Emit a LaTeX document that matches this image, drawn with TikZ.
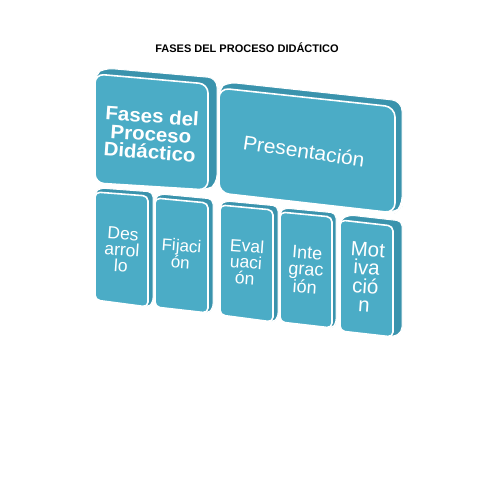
\documentclass[tikz,border=0pt]{standalone}
\usepackage{fontspec}
\setmainfont{Liberation Sans}
\usetikzlibrary{calc}
\definecolor{frontc}{HTML}{4BACC6}
\definecolor{sidec}{HTML}{3A93AD}
\newcommand\threedbox[7]{%
  \coordinate (#1-tl) at (#2);
  \coordinate (#1-tr) at (#3);
  \coordinate (#1-br) at (#4);
  \coordinate (#1-bl) at (#5);
  \filldraw[sidec, draw=white, line width=1pt, rounded corners=#7]
    (#1-bl) -- (#1-tl) -- ($(#1-tl)+(#6)$) -- ($(#1-tr)+(#6)$) -- ($(#1-br)+(#6)$) -- (#1-br) -- cycle;
  \filldraw[frontc, draw=white, line width=1.6pt, rounded corners=#7]
    (#1-tl) -- (#1-tr) -- (#1-br) -- (#1-bl) -- cycle;
}
\tikzset{
  lbl/.style={text=white, align=center, inner sep=0pt, rotate=-4},
}
\begin{document}
\begin{tikzpicture}[x=1pt,y=-1pt]
\useasboundingbox[fill=white] (0,0) rectangle (495,495);
\node[font=\bfseries\fontsize{11}{13}\selectfont, inner sep=0pt] (title) at (247,48) {FASES DEL PROCESO DIDÁCTICO};

\threedbox{b1}{95,74}{208,84}{208,190}{95,183}{9,-6}{9}
\threedbox{b2}{219,88}{395,107}{395,213}{219,193}{7,-6}{10}
\threedbox{b3}{95,192}{148,196}{148,307}{95,300}{5,-4}{5}
\threedbox{b4}{155,198}{208,203}{208,313}{155,307}{5,-4}{5}
\threedbox{b5}{220,205}{273,210}{273,322}{220,315}{5,-4}{5}
\threedbox{b6}{280,212}{332,217}{332,328}{280,322}{4,-4}{5}
\threedbox{b7}{340,220}{393,226}{393,337}{340,331}{9,-5}{5}

\node[lbl, font=\bfseries\fontsize{19.5}{18}\selectfont, xscale=1.05] (t1) at (151,134) {Fases del\\Proceso\\Didáctico};
\node[lbl, rotate=-4.5, font=\fontsize{20}{20}\selectfont, xscale=1.05] (t2) at (304,151) {Presentación};
\node[lbl, font=\fontsize{17.5}{16}\selectfont] (t3) at (122,250) {Des\\arrol\\lo};
\node[lbl, font=\fontsize{17}{16}\selectfont] (t4) at (181,254) {Fijaci\\ón};
\node[lbl, font=\fontsize{17.5}{16}\selectfont] (t5) at (246,262) {Eval\\uaci\\ón};
\node[lbl, font=\fontsize{18}{16.5}\selectfont] (t6) at (306,270) {Inte\\grac\\ión};
\node[lbl, font=\fontsize{20.5}{18.5}\selectfont] (t7) at (366,277) {Mot\\iva\\ció\\n};
\end{tikzpicture}
\end{document}
